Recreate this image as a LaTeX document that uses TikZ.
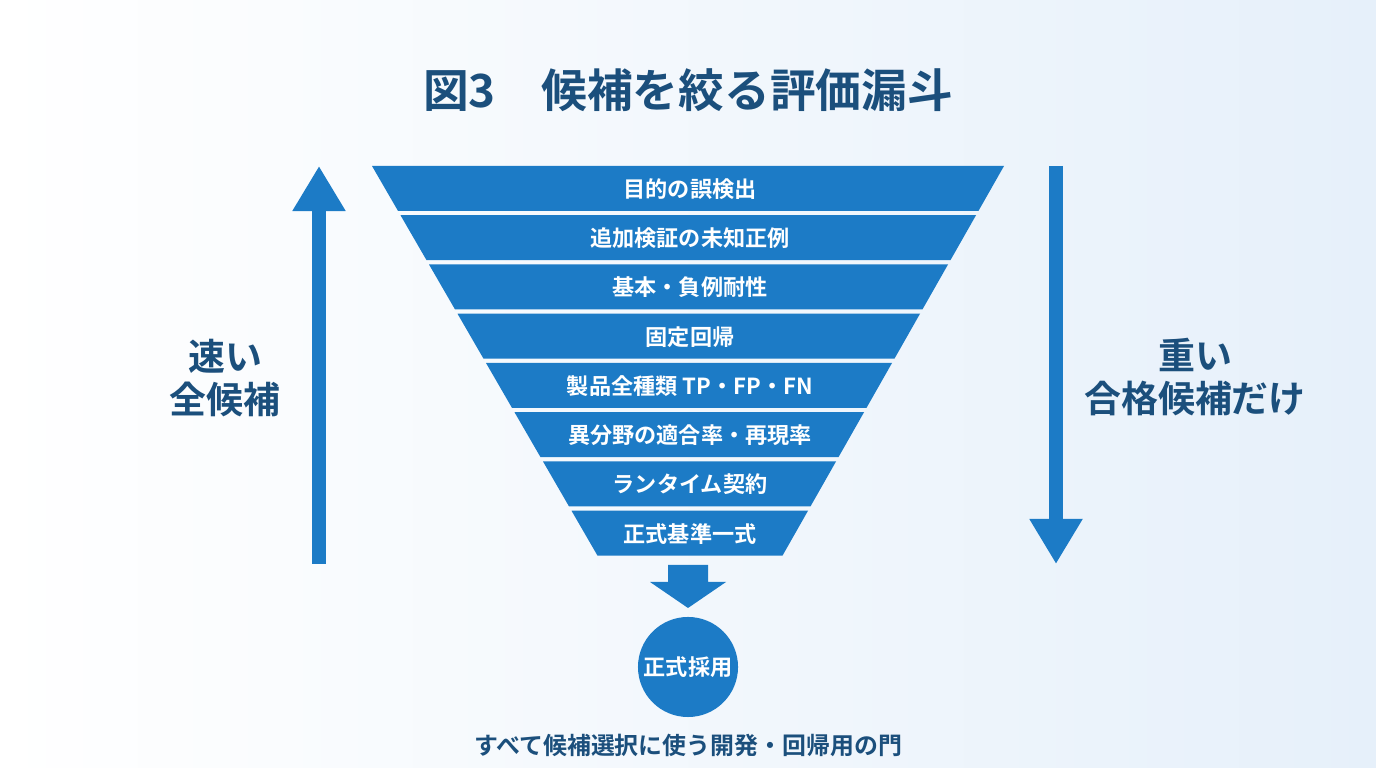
\documentclass[tikz,border=0pt]{standalone}
\usepackage{fontspec}
\setmainfont{Noto Sans CJK JP}[BoldFont={Noto Sans CJK JP Bold}]
\usetikzlibrary{positioning, calc, arrows.meta}
\definecolor{funnelblue}{HTML}{1C7BC6}
\definecolor{titleblue}{HTML}{1B4F7C}
\definecolor{bglight}{HTML}{E6F0FA}
\tikzset{
  bandtext/.style={text=white, font=\bfseries\fontsize{6.3pt}{7pt}\selectfont},
  sidetext/.style={text=titleblue, font=\bfseries\fontsize{10.5pt}{12pt}\selectfont, align=center},
  bigarrow/.style={funnelblue, line width=0.14cm, -{Triangle[width=0.5cm,length=0.45cm]}}
}
\begin{document}
\begin{tikzpicture}[x=0.01cm, y=-0.01cm]
  \useasboundingbox (0,0) rectangle (1376,768);
  \shade[left color=white, right color=bglight] (0,0) rectangle (1376,768);

  \node[text=titleblue, font=\bfseries\fontsize{13pt}{15pt}\selectfont] (title) at (688,90) {図3\quad 候補を絞る評価漏斗};

  % funnel bands
  \foreach \i/\txt in {0/目的の誤検出, 1/追加検証の未知正例, 2/基本・負例耐性, 3/固定回帰,
      4/製品全種類 TP・FP・FN, 5/異分野の適合率・再現率, 6/ランタイム契約, 7/正式基準一式} {
    \pgfmathsetmacro{\yt}{166+49.25*\i}
    \pgfmathsetmacro{\yb}{\yt+45}
    \pgfmathsetmacro{\xlt}{372+0.5787*(\yt-166)}
    \pgfmathsetmacro{\xlb}{372+0.5787*(\yb-166)}
    \pgfmathsetmacro{\xrt}{1004-0.5685*(\yt-166)}
    \pgfmathsetmacro{\xrb}{1004-0.5685*(\yb-166)}
    \fill[funnelblue] (\xlt,\yt) -- (\xrt,\yt) -- (\xrb,\yb) -- (\xlb,\yb) -- cycle;
    \node[bandtext] (band\i) at (690,\yt+23) {\txt};
  }

  % down block arrow to adoption
  \coordinate (arrtop) at (688,565);
  \fill[funnelblue] ($(arrtop)+(-20,0)$) -- ($(arrtop)+(20,0)$) -- ($(arrtop)+(20,17)$)
     -- ($(arrtop)+(38,17)$) -- ($(arrtop)+(0,43)$) -- ($(arrtop)+(-38,17)$) -- ($(arrtop)+(-20,17)$) -- cycle;
  \node[circle, fill=funnelblue, minimum size=1cm, inner sep=0pt, bandtext] (adopt) at (688,667) {正式採用};
  \node[text=titleblue, font=\bfseries\fontsize{6.8pt}{8pt}\selectfont] (gate) at (688,745) {すべて候補選択に使う開発・回帰用の門};

  % side arrows
  \coordinate (lbot) at (319,564);
  \coordinate (ltop) at (319,166);
  \coordinate (rtop) at (1056,166);
  \coordinate (rbot) at (1056,564);
  \draw[bigarrow] (lbot) -- (ltop);
  \draw[bigarrow] (rtop) -- (rbot);
  \node[sidetext] (fast) at (225,378) {速い\\全候補};
  \node[sidetext] (heavy) at (1195,377) {重い\\合格候補だけ};
\end{tikzpicture}
\end{document}
